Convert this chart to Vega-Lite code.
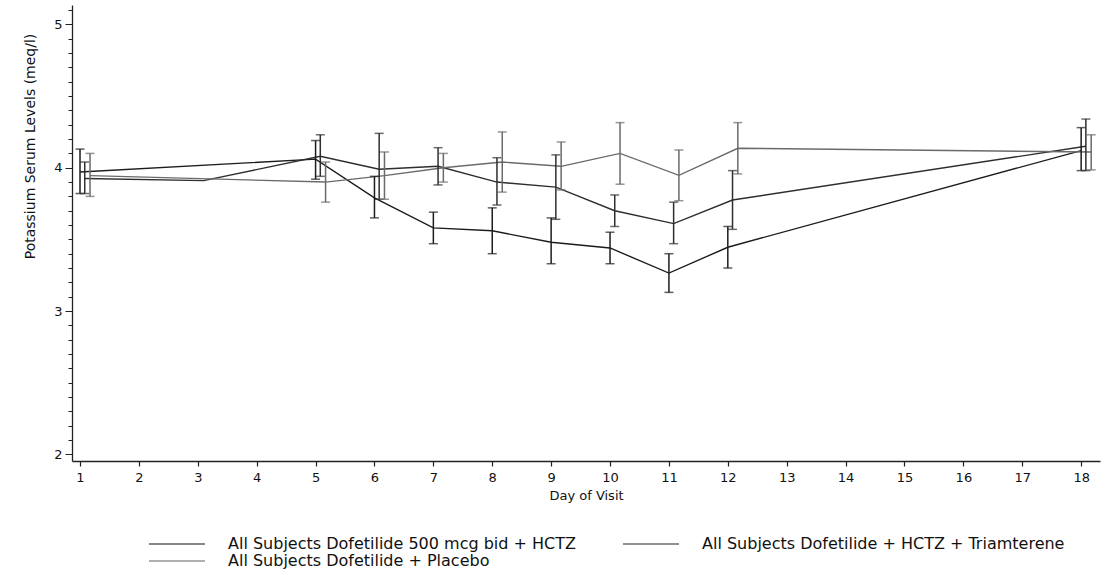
{
  "$schema": "https://vega.github.io/schema/vega-lite/v6.json",
  "width": 1028,
  "height": 456,
  "autosize": {"type": "none"},
  "padding": {"left": 72, "top": 5, "right": 5, "bottom": 127},
  "background": "white",
  "config": {"view": {"stroke": null}, "font": "DejaVu Sans", "axis": {"labelOverlap": false}},
  "data": {
    "values": [
      {"group": "All Subjects Dofetilide 500 mcg bid + HCTZ", "day": 1.0, "mean": 3.97, "lo": 3.82, "hi": 4.13},
      {"group": "All Subjects Dofetilide 500 mcg bid + HCTZ", "day": 5.0, "mean": 4.06, "lo": 3.92, "hi": 4.19},
      {"group": "All Subjects Dofetilide 500 mcg bid + HCTZ", "day": 6.0, "mean": 3.79, "lo": 3.65, "hi": 3.94},
      {"group": "All Subjects Dofetilide 500 mcg bid + HCTZ", "day": 7.0, "mean": 3.58, "lo": 3.47, "hi": 3.69},
      {"group": "All Subjects Dofetilide 500 mcg bid + HCTZ", "day": 8.0, "mean": 3.56, "lo": 3.40, "hi": 3.72},
      {"group": "All Subjects Dofetilide 500 mcg bid + HCTZ", "day": 9.0, "mean": 3.48, "lo": 3.33, "hi": 3.65},
      {"group": "All Subjects Dofetilide 500 mcg bid + HCTZ", "day": 10.0, "mean": 3.44, "lo": 3.33, "hi": 3.55},
      {"group": "All Subjects Dofetilide 500 mcg bid + HCTZ", "day": 11.0, "mean": 3.265, "lo": 3.13, "hi": 3.40},
      {"group": "All Subjects Dofetilide 500 mcg bid + HCTZ", "day": 12.0, "mean": 3.445, "lo": 3.30, "hi": 3.59},
      {"group": "All Subjects Dofetilide 500 mcg bid + HCTZ", "day": 18.0, "mean": 4.12, "lo": 3.98, "hi": 4.28},
      {"group": "All Subjects Dofetilide + HCTZ + Triamterene", "day": 1.08, "mean": 3.925, "lo": 3.82, "hi": 4.04},
      {"group": "All Subjects Dofetilide + HCTZ + Triamterene", "day": 3.1, "mean": 3.91, "lo": null, "hi": null},
      {"group": "All Subjects Dofetilide + HCTZ + Triamterene", "day": 5.08, "mean": 4.08, "lo": 3.94, "hi": 4.23},
      {"group": "All Subjects Dofetilide + HCTZ + Triamterene", "day": 6.08, "mean": 3.99, "lo": 3.78, "hi": 4.24},
      {"group": "All Subjects Dofetilide + HCTZ + Triamterene", "day": 7.08, "mean": 4.01, "lo": 3.88, "hi": 4.14},
      {"group": "All Subjects Dofetilide + HCTZ + Triamterene", "day": 8.08, "mean": 3.90, "lo": 3.74, "hi": 4.07},
      {"group": "All Subjects Dofetilide + HCTZ + Triamterene", "day": 9.08, "mean": 3.865, "lo": 3.64, "hi": 4.09},
      {"group": "All Subjects Dofetilide + HCTZ + Triamterene", "day": 10.08, "mean": 3.70, "lo": 3.59, "hi": 3.81},
      {"group": "All Subjects Dofetilide + HCTZ + Triamterene", "day": 11.08, "mean": 3.61, "lo": 3.47, "hi": 3.76},
      {"group": "All Subjects Dofetilide + HCTZ + Triamterene", "day": 12.08, "mean": 3.775, "lo": 3.57, "hi": 3.98},
      {"group": "All Subjects Dofetilide + HCTZ + Triamterene", "day": 18.08, "mean": 4.15, "lo": 3.98, "hi": 4.34},
      {"group": "All Subjects Dofetilide + Placebo", "day": 1.17, "mean": 3.945, "lo": 3.80, "hi": 4.10},
      {"group": "All Subjects Dofetilide + Placebo", "day": 5.17, "mean": 3.90, "lo": 3.76, "hi": 4.04},
      {"group": "All Subjects Dofetilide + Placebo", "day": 6.17, "mean": 3.945, "lo": 3.78, "hi": 4.11},
      {"group": "All Subjects Dofetilide + Placebo", "day": 7.17, "mean": 4.0, "lo": 3.90, "hi": 4.10},
      {"group": "All Subjects Dofetilide + Placebo", "day": 8.17, "mean": 4.04, "lo": 3.83, "hi": 4.25},
      {"group": "All Subjects Dofetilide + Placebo", "day": 9.17, "mean": 4.01, "lo": 3.845, "hi": 4.18},
      {"group": "All Subjects Dofetilide + Placebo", "day": 10.17, "mean": 4.10, "lo": 3.885, "hi": 4.315},
      {"group": "All Subjects Dofetilide + Placebo", "day": 11.17, "mean": 3.947, "lo": 3.77, "hi": 4.124},
      {"group": "All Subjects Dofetilide + Placebo", "day": 12.17, "mean": 4.136, "lo": 3.957, "hi": 4.315},
      {"group": "All Subjects Dofetilide + Placebo", "day": 18.17, "mean": 4.11, "lo": 3.985, "hi": 4.23}
    ]
  },
  "encoding": {
    "x": {
      "field": "day",
      "type": "quantitative",
      "scale": {"domain": [0.864, 18.32], "nice": false, "zero": false},
      "axis": {
        "title": "Day of Visit",
        "values": [1,2,3,4,5,6,7,8,9,10,11,12,13,14,15,16,17,18],
        "format": "d",
        "grid": false,
        "tickSize": 5,
        "domainColor": "#222",
        "domainWidth": 1.3,
        "tickColor": "#222",
        "tickWidth": 1.2,
        "labelFontSize": 13,
        "labelColor": "#111",
        "labelPadding": 5,
        "labelOverlap": false,
        "titleFontSize": 13,
        "titleFontWeight": "normal",
        "titleColor": "#111",
        "titlePadding": 5
      }
    },
    "color": {
      "field": "group",
      "type": "nominal",
      "scale": {
        "domain": ["All Subjects Dofetilide 500 mcg bid + HCTZ", "All Subjects Dofetilide + HCTZ + Triamterene", "All Subjects Dofetilide + Placebo"],
        "range": ["#1c1c1c", "#2e2e2e", "#6a6a6a"]
      },
      "legend": {
        "title": null,
        "orient": "none",
        "legendX": 96,
        "legendY": 530,
        "direction": "horizontal",
        "columns": 2,
        "symbolType": "M-3.5,0H3.5",
        "symbolSize": 256,
        "symbolStrokeWidth": 1.5,
        "labelFontSize": 16,
        "labelColor": "#111",
        "labelLimit": 600,
        "labelOffset": 42,
        "columnPadding": 44,
        "rowPadding": 0,
        "padding": 0
      }
    }
  },
  "layer": [
    {
      "mark": {"type": "line", "strokeWidth": 1.4},
      "encoding": {
        "y": {
          "field": "mean",
          "type": "quantitative",
          "scale": {"domain": [1.953, 5.136], "nice": false, "zero": false},
          "axis": {
            "title": "Potassium Serum Levels (meq/l)",
            "values": [2,2.1,2.2,2.3,2.4,2.5,2.6,2.7,2.8,2.9,3,3.1,3.2,3.3,3.4,3.5,3.6,3.7,3.8,3.9,4,4.1,4.2,4.3,4.4,4.5,4.6,4.7,4.8,4.9,5,5.1],
            "labelExpr": "datum.value % 1 === 0 ? format(datum.value, 'd') : ''",
            "labelOverlap": false,
            "tickSize": {"condition": {"test": "datum.value % 1 === 0", "value": 7}, "value": 4},
            "grid": false,
            "domainColor": "#222",
            "domainWidth": 1.3,
            "tickColor": "#222",
            "labelFontSize": 13,
            "labelColor": "#111",
            "labelPadding": 3,
            "titleFontSize": 14,
            "titleFontWeight": "normal",
            "titleColor": "#111",
            "titleAngle": -90,
            "titleX": -42,
            "titleY": 141,
            "titleAlign": "center",
            "titleBaseline": "middle"
          }
        }
      }
    },
    {
      "transform": [{"filter": "isValid(datum.lo)"}],
      "mark": {"type": "errorbar", "ticks": true, "size": 9, "thickness": 1.5},
      "encoding": {
        "y": {
          "field": "lo",
          "type": "quantitative",
          "axis": {
            "title": "Potassium Serum Levels (meq/l)",
            "values": [2,2.1,2.2,2.3,2.4,2.5,2.6,2.7,2.8,2.9,3,3.1,3.2,3.3,3.4,3.5,3.6,3.7,3.8,3.9,4,4.1,4.2,4.3,4.4,4.5,4.6,4.7,4.8,4.9,5,5.1],
            "labelExpr": "datum.value % 1 === 0 ? format(datum.value, 'd') : ''",
            "labelOverlap": false,
            "tickSize": {"condition": {"test": "datum.value % 1 === 0", "value": 7}, "value": 4},
            "grid": false,
            "domainColor": "#222",
            "domainWidth": 1.3,
            "tickColor": "#222",
            "labelFontSize": 13,
            "labelColor": "#111",
            "labelPadding": 3,
            "titleFontSize": 14,
            "titleFontWeight": "normal",
            "titleColor": "#111",
            "titleAngle": -90,
            "titleX": -42,
            "titleY": 141,
            "titleAlign": "center",
            "titleBaseline": "middle"
          }
        },
        "y2": {"field": "hi"}
      }
    }
  ]
}
